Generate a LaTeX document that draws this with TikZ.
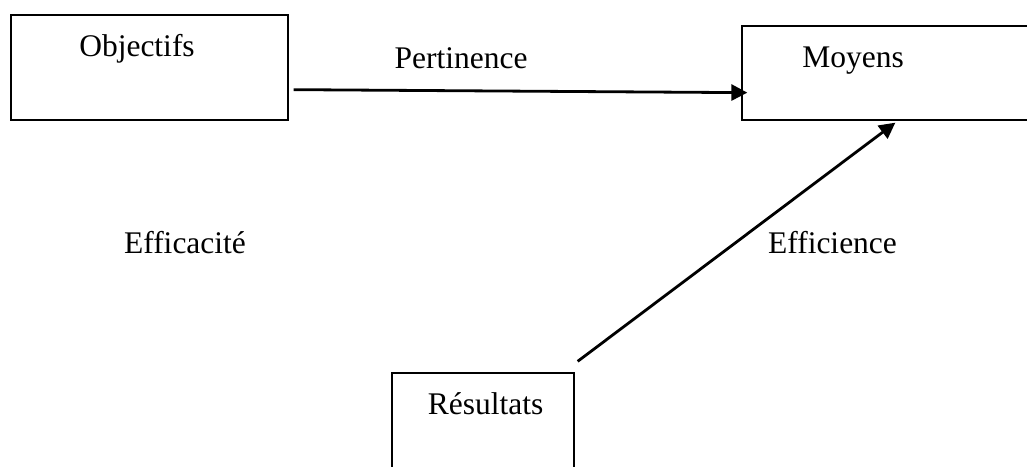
\documentclass[tikz,border=0pt]{standalone}
\usepackage{fontspec}
\setmainfont{Liberation Serif}
\usetikzlibrary{arrows.meta,calc}
\begin{document}
\begin{tikzpicture}[x=1pt,y=-1pt,
  box/.style={draw=black,line width=1.3pt,rectangle,inner sep=0pt},
  lbl/.style={anchor=base,inner sep=0pt,font=\fontsize{31.5}{36}\selectfont},
  arr/.style={line width=2.8pt,-{Triangle[length=16pt,width=16pt]}}]
\useasboundingbox (0,0) rectangle (1027,466);
\clip (0,0) rectangle (1027,466);
% boxes
\node[box,minimum width=277pt,minimum height=105pt] (obj) at (149.5,67.5) {};
\node[box,minimum width=318pt,minimum height=94pt] (moy) at (901,73) {};
\node[box,minimum width=182pt,minimum height=127pt] (res) at (483,436.5) {};
% box texts
\node[lbl] (tobj) at (137,56) {Objectifs};
\node[lbl] (tmoy) at (853,67) {Moyens};
\node[lbl] (tres) at (485.5,414) {Résultats};
% free labels
\node[lbl] (pert) at (461,68) {Pertinence};
\node[lbl] (effa) at (185,253) {Efficacité};
\node[lbl] (effi) at (832.5,253) {Efficience};
% connectors
\coordinate (a1) at ($(obj.south east)+(5,-31)$);
\coordinate (a2) at ($(moy.south west)+(6,-28)$);
\draw[arr] (a1) -- (a2);
\coordinate (b1) at ($(res.north east)+(3,-11)$);
\coordinate (b2) at ($(moy.south west)+(154,2)$);
\draw[arr] (b1) -- (b2);
\end{tikzpicture}
\end{document}
